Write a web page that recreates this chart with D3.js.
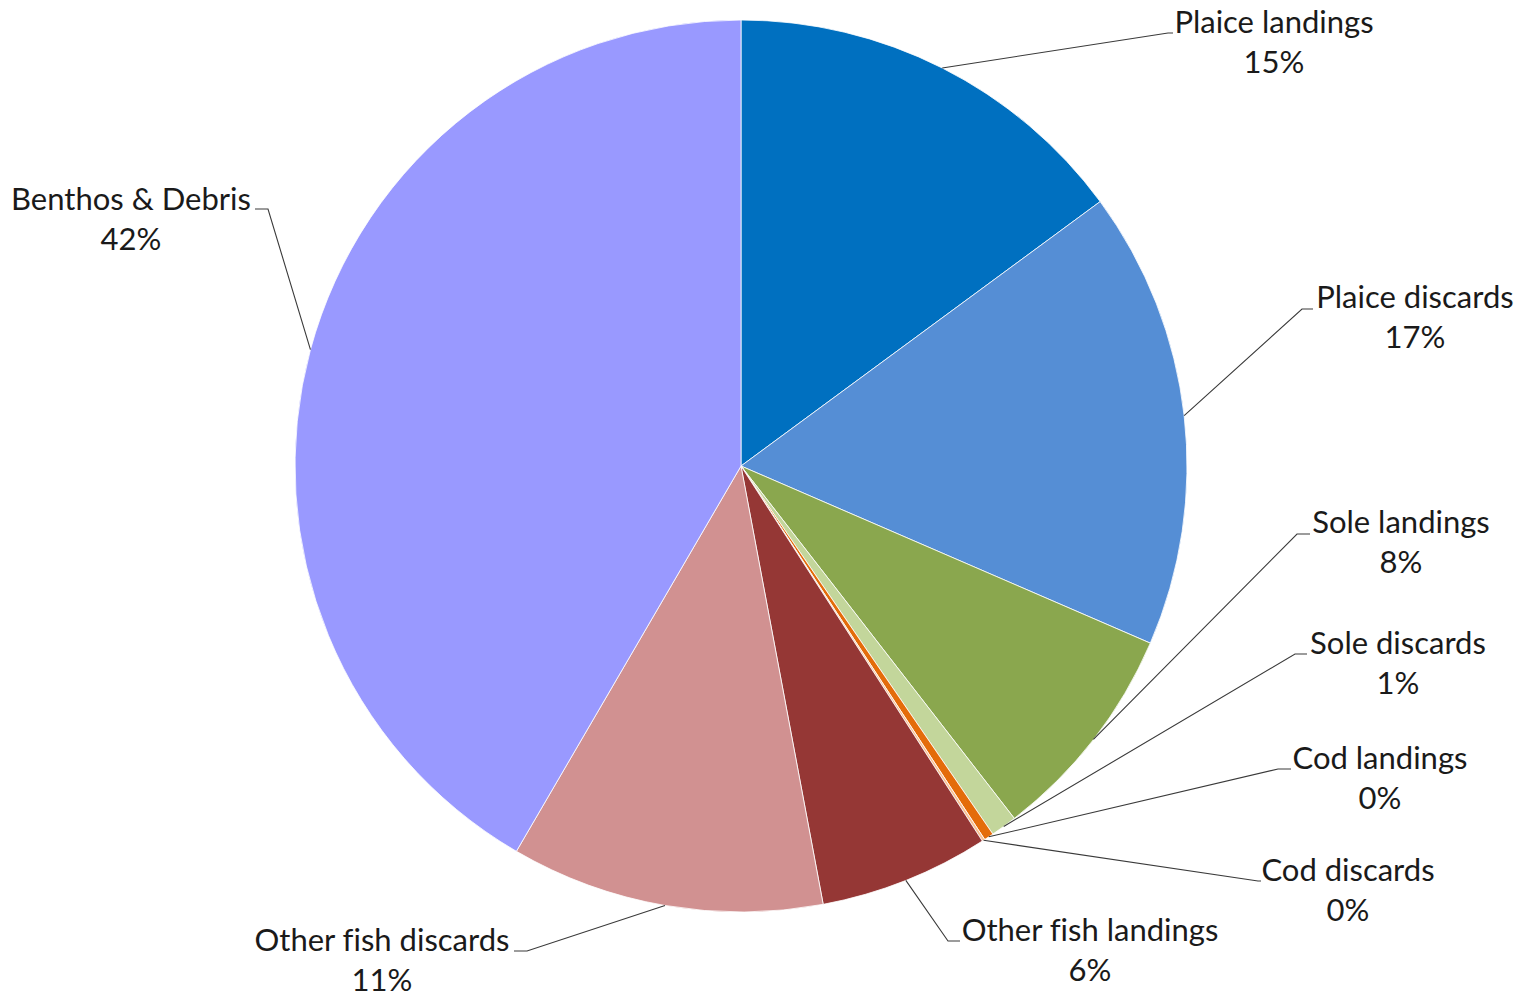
<!DOCTYPE html>
<html>
<head>
<meta charset="utf-8">
<script src="https://cdn.jsdelivr.net/npm/d3@7"></script>
<style>
  html, body { margin: 0; padding: 0; background: #fff; }
  svg { display: block; }
  text { font-family: Lato, "Open Sans", sans-serif; fill: #1a1a1a; font-variant-ligatures: none; font-feature-settings: "liga" 0; }
</style>
</head>
<body>
<svg id="chart" width="1531" height="998"></svg>
<script>
// ---- data ----
const categories = [
  "Plaice landings", "Plaice discards", "Sole landings", "Sole discards",
  "Cod landings", "Cod discards", "Other fish landings", "Other fish discards",
  "Benthos & Debris"
];
const values = [14.9, 16.6, 8.0, 0.95, 0.35, 0.1, 6.15, 11.35, 41.6];
const percentLabels = ["15%", "17%", "8%", "1%", "0%", "0%", "6%", "11%", "42%"];

// ---- styles / layout (kept apart from data) ----
const colors = ["#0070C0", "#558ED5", "#8AA74E", "#C3D69B", "#E46C0A", "#FAC090", "#953735", "#D19191", "#9999FF"];
// label centre x, first-line centre y, leader elbow (x,y), leader end x
const labelLayout = [
  { cx: 1274, cy: 22,  ex: 1168, ey: 33,  hx: 1173 },
  { cx: 1415, cy: 297, ex: 1302, ey: 309, hx: 1313 },
  { cx: 1401, cy: 522, ex: 1297, ey: 534, hx: 1310 },
  { cx: 1398, cy: 643, ex: 1295, ey: 654, hx: 1307 },
  { cx: 1380, cy: 758, ex: 1278, ey: 769, hx: 1291 },
  { cx: 1348, cy: 870, ex: 1258, ey: 881, hx: 1261 },
  { cx: 1090, cy: 930, ex: 948,  ey: 941, hx: 960 },
  { cx: 382,  cy: 940, ex: 527,  ey: 951, hx: 514 },
  { cx: 131,  cy: 199, ex: 268,  ey: 209, hx: 255 }
];

const cx = 741, cy = 466, R = 446;
const fontSize = 31, lineGap = 40;

const svg = d3.select("#chart");
const g = svg.append("g").attr("transform", `translate(${cx},${cy})`);

const pie = d3.pie().sort(null).value(d => d.value);
const arcs = pie(categories.map((c, i) => ({ name: c, value: values[i], i })));
const arc = d3.arc().innerRadius(0).outerRadius(R);

g.selectAll("path.slice")
  .data(arcs)
  .join("path")
  .attr("class", "slice")
  .attr("d", arc)
  .attr("fill", d => colors[d.data.i])
  .attr("stroke", "#ffffff")
  .attr("stroke-width", 0.8)
  .attr("stroke-linejoin", "round");

// leader lines
const leaders = svg.append("g");
arcs.forEach(d => {
  const L = labelLayout[d.data.i];
  const mid = (d.startAngle + d.endAngle) / 2;
  const sx = cx + R * Math.sin(mid);
  const sy = cy - R * Math.cos(mid);
  leaders.append("path")
    .attr("d", d3.line()([[sx, sy], [L.ex, L.ey], [L.hx, L.ey]]))
    .attr("fill", "none")
    .attr("stroke", "#3a3a3a")
    .attr("stroke-width", 1.1);
});

// labels
const labels = svg.append("g");
arcs.forEach(d => {
  const L = labelLayout[d.data.i];
  const t = labels.append("text")
    .attr("text-anchor", "middle")
    .attr("font-size", fontSize);
  t.append("tspan").attr("x", L.cx).attr("y", L.cy).attr("dy", "0.35em").text(d.data.name);
  t.append("tspan").attr("x", L.cx).attr("y", L.cy + lineGap).attr("dy", "0.35em").text(percentLabels[d.data.i]);
});
</script>
</body>
</html>
